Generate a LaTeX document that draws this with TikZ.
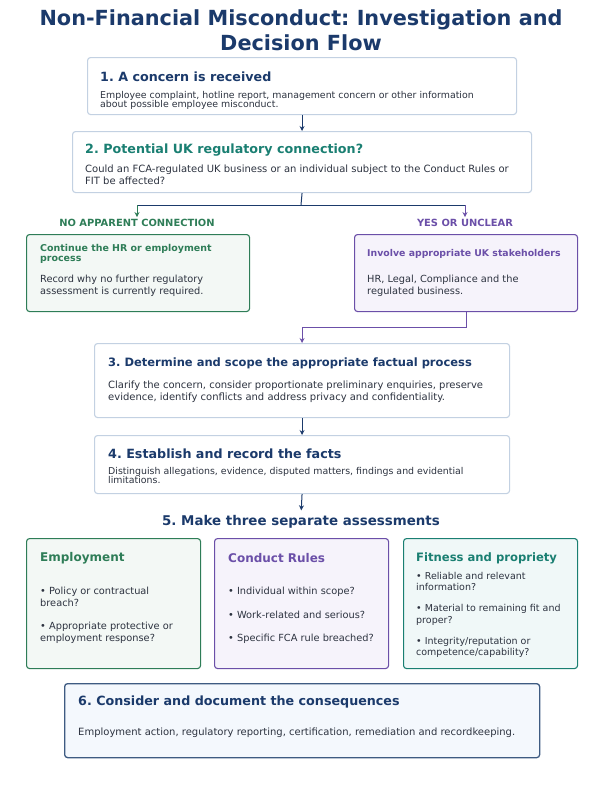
\documentclass[tikz,border=0pt]{standalone}
\usepackage{fontspec}
\setmainfont{DejaVu Sans}
\frenchspacing
\usetikzlibrary{arrows.meta}
\definecolor{navy}{HTML}{1B3A6B}
\definecolor{tealhead}{HTML}{1A7F72}
\definecolor{okgreen}{HTML}{2E7D57}
\definecolor{regpurple}{HTML}{6B4FA8}
\definecolor{bodytext}{HTML}{2D3340}
\definecolor{boxline}{HTML}{C3D1E2}
\definecolor{greenfill}{HTML}{F3F8F5}
\definecolor{purplefill}{HTML}{F6F3FB}
\definecolor{tealfill}{HTML}{F0F8F8}
\definecolor{finalfill}{HTML}{F4F8FD}
\definecolor{finalline}{HTML}{3E5B82}
\tikzset{
  stepbox/.style={draw=boxline, fill=white, line width=1.1pt, rounded corners=3pt,
    anchor=north west, inner sep=0pt},
  steptitle/.style={anchor=west, inner sep=0pt, text=navy,
    font=\fontsize{12.7}{15}\selectfont\bfseries},
  stepbody/.style={anchor=north west, inner sep=0pt, align=left, text=bodytext,
    font=\fontsize{9.8}{12}\selectfont},
  branchlabel/.style={inner sep=0pt, font=\fontsize{9.9}{11}\selectfont\bfseries},
  flow/.style={navy, line width=1pt, -{Stealth[length=5pt,width=5pt]}},
  navyline/.style={navy, line width=1pt}
}
\begin{document}
\begin{tikzpicture}[x=1pt,y=-1pt]
\useasboundingbox (0,0) rectangle (602,790);

\node [text=navy, align=center, font=\fontsize{20.8}{25}\selectfont\bfseries] (title) at (301,30)
  {Non-Financial Misconduct: Investigation and\\Decision Flow};

\node [stepbox, minimum width=429pt, minimum height=57pt] (concern) at (87,57) {};
\node [steptitle] (concernhead) at (100,77) {1. A concern is received};
\node [stepbody, font=\fontsize{9.4}{9.5}\selectfont] (concerntext) at (100,91)
  {Employee complaint, hotline report, management concern or other information\\about possible employee misconduct.};

\node [stepbox, minimum width=459pt, minimum height=61pt] (regulatory) at (72,131) {};
\node [steptitle, text=tealhead] (regulatoryhead) at (85,150) {2. Potential UK regulatory connection?};
\node [stepbody, font=\fontsize{10}{12}\selectfont] (regulatorytext) at (85,165)
  {Could an FCA-regulated UK business or an individual subject to the Conduct Rules or\\FIT be affected?};

\draw [flow] (concern.south) -- (regulatory.north);

\coordinate (split) at (301,205);
\coordinate (splitleft) at (137,205);
\coordinate (splitright) at (465,205);
\draw [navyline] (regulatory.south) -- (split);
\draw [navyline] (splitleft) -- (splitright);

\node [branchlabel, text=okgreen] (nolabel) at (137,223) {NO APPARENT CONNECTION};
\node [branchlabel, text=regpurple] (yeslabel) at (465,223) {YES OR UNCLEAR};
\draw [flow, okgreen, shorten >=2pt] (splitleft) -- (nolabel.north);
\draw [flow, regpurple, shorten >=2pt] (splitright) -- (yeslabel.north);

\node [stepbox, draw=okgreen, fill=greenfill, minimum width=223pt, minimum height=77pt] (hrprocess) at (26,234) {};
\node [stepbody, text=okgreen, font=\fontsize{9.45}{10}\selectfont\bfseries] (hrhead) at (40,244)
  {Continue the HR or employment\\process};
\node [stepbody] (hrtext) at (40,275)
  {Record why no further regulatory\\assessment is currently required.};

\node [stepbox, draw=regpurple, fill=purplefill, minimum width=223pt, minimum height=77pt] (involve) at (354,234) {};
\node [steptitle, text=regpurple, font=\fontsize{9.35}{10}\selectfont\bfseries] (involvehead) at (367,254)
  {Involve appropriate UK stakeholders};
\node [stepbody] (involvetext) at (367,275)
  {HR, Legal, Compliance and the\\regulated business.};

\node [stepbox, minimum width=415pt, minimum height=74pt] (scope) at (94,343) {};
\node [steptitle, font=\fontsize{11.5}{14}\selectfont\bfseries] (scopehead) at (108,363)
  {3. Determine and scope the appropriate factual process};
\node [stepbody, font=\fontsize{10}{12}\selectfont] (scopetext) at (108,381)
  {Clarify the concern, consider proportionate preliminary enquiries, preserve\\evidence, identify conflicts and address privacy and confidentiality.};

\draw [flow, regpurple] (involve.south) -- ++(0,15) -| (scope.north);

\node [stepbox, minimum width=415pt, minimum height=58pt] (facts) at (94,435) {};
\node [steptitle] (factshead) at (108,454) {4. Establish and record the facts};
\node [stepbody, font=\fontsize{9.4}{9.5}\selectfont] (factstext) at (108,467)
  {Distinguish allegations, evidence, disputed matters, findings and evidential\\limitations.};

\draw [flow] (scope.south) -- (facts.north);

\node [steptitle, anchor=center, font=\fontsize{13.4}{15}\selectfont\bfseries] (assess) at (301,522)
  {5. Make three separate assessments};
\draw [flow, shorten >=5pt] (facts.south) -- (assess.north);

\node [stepbox, draw=okgreen, fill=greenfill, minimum width=174pt, minimum height=130pt] (employment) at (26,538) {};
\node [steptitle, text=okgreen, font=\fontsize{12}{14}\selectfont\bfseries] (employmenthead) at (40,558) {Employment};
\node [stepbody] (employmenttext) at (40,587)
  {• Policy or contractual\\breach?\\[11pt]• Appropriate protective or\\employment response?};

\node [stepbox, draw=regpurple, fill=purplefill, minimum width=174pt, minimum height=130pt] (conduct) at (214,538) {};
\node [steptitle, text=regpurple, font=\fontsize{12}{14}\selectfont\bfseries] (conducthead) at (228,558) {Conduct Rules};
\node [stepbody] (conducttext) at (228,587)
  {• Individual within scope?\\[11.5pt]• Work-related and serious?\\[11.5pt]• Specific FCA rule breached?};

\node [stepbox, draw=tealhead, fill=tealfill, minimum width=174pt, minimum height=130pt] (fitness) at (403,538) {};
\node [steptitle, text=tealhead, font=\fontsize{11.6}{14}\selectfont\bfseries] (fitnesshead) at (416,558) {Fitness and propriety};
\node [stepbody, font=\fontsize{9.5}{11.5}\selectfont] (fitnesstext) at (416,572)
  {• Reliable and relevant\\information?\\[9.5pt]• Material to remaining fit and\\proper?\\[9.5pt]• Integrity/reputation or\\competence/capability?};

\node [stepbox, draw=finalline, fill=finalfill, line width=1.3pt, minimum width=475pt, minimum height=74pt] (consequences) at (64,683) {};
\node [steptitle] (consequenceshead) at (78,702) {6. Consider and document the consequences};
\node [stepbody, anchor=west, font=\fontsize{10}{12}\selectfont] (consequencestext) at (78,733)
  {Employment action, regulatory reporting, certification, remediation and recordkeeping.};
\end{tikzpicture}
\end{document}
